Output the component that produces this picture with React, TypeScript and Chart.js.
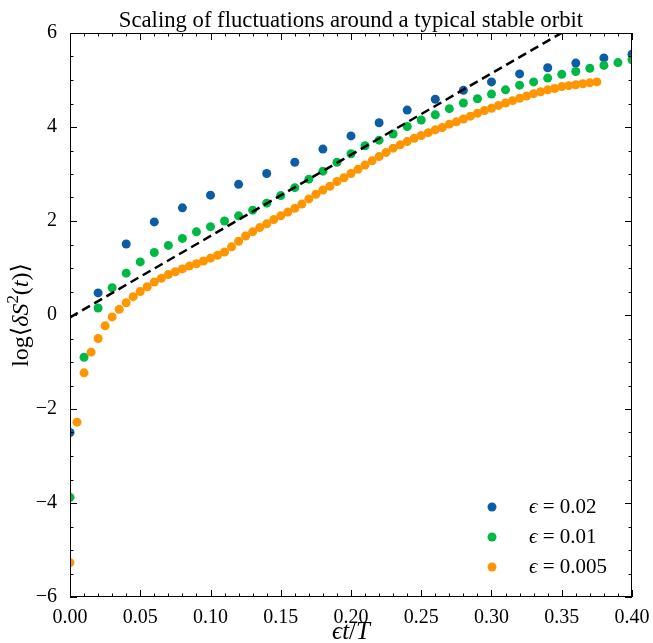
import React, { useEffect, useRef } from "react";
import { Chart, registerables } from "chart.js";
Chart.register(...registerables);

const TITLE = "Scaling of fluctuations around a typical stable orbit";
const LEGEND_LABELS = ["0.02", "0.01", "0.005"];
const COLORS = ["#0C5DA5", "#00B945", "#FF9500"];

const blueX = [0, 0.02, 0.04, 0.06, 0.08, 0.1, 0.12, 0.14, 0.16, 0.18, 0.2, 0.22, 0.24, 0.26, 0.28, 0.3, 0.32, 0.34, 0.36, 0.38, 0.4];
const blueY = [-2.5, 0.47, 1.51, 1.98, 2.28, 2.55, 2.78, 3.01, 3.25, 3.53, 3.81, 4.09, 4.36, 4.59, 4.78, 4.96, 5.13, 5.26, 5.36, 5.47, 5.55];

const greenX = [0, 0.01, 0.02, 0.03, 0.04, 0.05, 0.06, 0.07, 0.08, 0.09, 0.1, 0.11, 0.12, 0.13, 0.14, 0.15, 0.16, 0.17, 0.18, 0.19, 0.2, 0.21, 0.22, 0.23, 0.24, 0.25, 0.26, 0.27, 0.28, 0.29, 0.3, 0.31, 0.32, 0.33, 0.34, 0.35, 0.36, 0.37, 0.38, 0.39, 0.4];
const greenY = [-3.88, -0.9, 0.15, 0.58, 0.89, 1.13, 1.33, 1.48, 1.63, 1.77, 1.88, 2.0, 2.11, 2.23, 2.38, 2.54, 2.71, 2.89, 3.06, 3.25, 3.43, 3.6, 3.72, 3.85, 4.01, 4.15, 4.26, 4.39, 4.51, 4.6, 4.7, 4.79, 4.89, 4.96, 5.04, 5.12, 5.18, 5.25, 5.31, 5.37, 5.43];

const orangeX = [0, 0.005, 0.01, 0.015, 0.02, 0.025, 0.03, 0.035, 0.04, 0.045, 0.05, 0.055, 0.06, 0.065, 0.07, 0.075, 0.08, 0.085, 0.09, 0.095, 0.1, 0.105, 0.11, 0.115, 0.12, 0.125, 0.13, 0.135, 0.14, 0.145, 0.15, 0.155, 0.16, 0.165, 0.17, 0.175, 0.18, 0.185, 0.19, 0.195, 0.2, 0.205, 0.21, 0.215, 0.22, 0.225, 0.23, 0.235, 0.24, 0.245, 0.25, 0.255, 0.26, 0.265, 0.27, 0.275, 0.28, 0.285, 0.29, 0.295, 0.3, 0.305, 0.31, 0.315, 0.32, 0.325, 0.33, 0.335, 0.34, 0.345, 0.35, 0.355, 0.36, 0.365, 0.37, 0.375];
const orangeY = [-5.27, -2.28, -1.23, -0.79, -0.5, -0.23, -0.04, 0.12, 0.26, 0.39, 0.5, 0.6, 0.7, 0.78, 0.86, 0.92, 0.98, 1.04, 1.09, 1.15, 1.21, 1.27, 1.34, 1.45, 1.57, 1.68, 1.77, 1.86, 1.94, 2.03, 2.11, 2.19, 2.27, 2.36, 2.47, 2.57, 2.66, 2.74, 2.84, 2.92, 3.01, 3.1, 3.19, 3.28, 3.37, 3.46, 3.55, 3.62, 3.69, 3.76, 3.82, 3.88, 3.94, 3.99, 4.06, 4.11, 4.17, 4.23, 4.29, 4.35, 4.4, 4.46, 4.51, 4.56, 4.61, 4.66, 4.71, 4.75, 4.79, 4.82, 4.86, 4.88, 4.9, 4.92, 4.94, 4.96];

const fitX = [0, 0.4];
const fitY = [-0.05, 6.87];

const X_MIN = 0, X_MAX = 0.4, X_MAJOR = 0.05, X_MINOR = 0.01;
const Y_MIN = -6, Y_MAX = 6, Y_MAJOR = 2, Y_MINOR = 0.5;

const FONT = "'Liberation Serif', 'DejaVu Serif', serif";

type Seg = { t: string; it?: boolean; sup?: boolean };

function segFont(s: Seg, size: number) {
  const sz = s.sup ? size * 0.7 : size;
  return `${s.it ? "italic " : ""}${sz}px ${FONT}`;
}

function drawRich(ctx: CanvasRenderingContext2D, segs: Seg[], x: number, y: number, size: number) {
  let total = 0;
  for (const s of segs) {
    ctx.font = segFont(s, size);
    total += ctx.measureText(s.t).width;
  }
  let cx = x - total / 2;
  ctx.textAlign = "left";
  ctx.textBaseline = "alphabetic";
  for (const s of segs) {
    ctx.font = segFont(s, size);
    ctx.fillText(s.t, cx, s.sup ? y - size * 0.4 : y);
    cx += ctx.measureText(s.t).width;
  }
}

function drawRichLeft(ctx: CanvasRenderingContext2D, segs: Seg[], x: number, y: number, size: number) {
  let cx = x;
  ctx.textAlign = "left";
  ctx.textBaseline = "middle";
  for (const s of segs) {
    ctx.font = segFont(s, size);
    ctx.fillText(s.t, cx, y);
    cx += ctx.measureText(s.t).width;
  }
}

const decorPlugin = {
  id: "decor",
  afterDraw(chart: any) {
    const ctx: CanvasRenderingContext2D = chart.ctx;
    const a = chart.chartArea;
    const xs = chart.scales.x;
    const ys = chart.scales.y;
    ctx.save();
    ctx.strokeStyle = "#000";
    ctx.fillStyle = "#000";
    ctx.lineWidth = 1;
    ctx.strokeRect(a.left + 0.5, a.top + 0.5, a.right - a.left - 1, a.bottom - a.top - 1);
    const nx = Math.round((X_MAX - X_MIN) / X_MINOR);
    for (let i = 0; i <= nx; i++) {
      const v = X_MIN + i * X_MINOR;
      const major = i % Math.round(X_MAJOR / X_MINOR) === 0;
      const L = major ? 7 : 3.5;
      const px = Math.round(xs.getPixelForValue(v)) + 0.5;
      ctx.beginPath();
      ctx.moveTo(px, a.bottom);
      ctx.lineTo(px, a.bottom - L);
      ctx.moveTo(px, a.top);
      ctx.lineTo(px, a.top + L);
      ctx.stroke();
    }
    const ny = Math.round((Y_MAX - Y_MIN) / Y_MINOR);
    for (let i = 0; i <= ny; i++) {
      const v = Y_MIN + i * Y_MINOR;
      const major = i % Math.round(Y_MAJOR / Y_MINOR) === 0;
      const L = major ? 7 : 3.5;
      const py = Math.round(ys.getPixelForValue(v)) + 0.5;
      ctx.beginPath();
      ctx.moveTo(a.left, py);
      ctx.lineTo(a.left + L, py);
      ctx.moveTo(a.right, py);
      ctx.lineTo(a.right - L, py);
      ctx.stroke();
    }
    // title
    ctx.font = `22.7px ${FONT}`;
    ctx.textAlign = "center";
    ctx.textBaseline = "alphabetic";
    ctx.fillText(TITLE, (a.left + a.right) / 2, 27);
    // x title
    drawRich(ctx, [{ t: "\u03F5", it: true }, { t: "t", it: true }, { t: "/" }, { t: "T", it: true }], (a.left + a.right) / 2, 639, 25);
    // y title
    ctx.save();
    ctx.translate(28, (a.top + a.bottom) / 2);
    ctx.rotate(-Math.PI / 2);
    drawRich(ctx, [
      { t: "log\u27E8" },
      { t: "\u03B4S", it: true },
      { t: "2", sup: true },
      { t: "(" },
      { t: "t", it: true },
      { t: ")\u27E9" },
    ], 0, 0, 24);
    ctx.restore();
    // legend
    for (let i = 0; i < 3; i++) {
      const ly = 507 + i * 30;
      ctx.beginPath();
      ctx.fillStyle = COLORS[i];
      ctx.arc(492, ly, 4.5, 0, Math.PI * 2);
      ctx.fill();
      ctx.fillStyle = "#000";
      drawRichLeft(ctx, [{ t: "\u03F5", it: true }, { t: " = " + LEGEND_LABELS[i] }], 529, ly, 21);
    }
    ctx.restore();
  },
};

function toPts(xs: number[], ys: number[]) {
  return xs.map((x, i) => ({ x, y: ys[i] }));
}

export default function App() {
  const ref = useRef<HTMLCanvasElement | null>(null);
  useEffect(() => {
    if (!ref.current) return;
    const pointDs = (data: any, color: string, order: number) => ({
      data,
      backgroundColor: color,
      borderColor: color,
      pointRadius: 4.5,
      pointBorderWidth: 0,
      pointHoverRadius: 4.5,
      showLine: false,
      order,
    });
    const chart = new Chart(ref.current, {
      type: "scatter",
      data: {
        datasets: [
          {
            data: toPts(fitX, fitY),
            showLine: true,
            borderColor: "#000",
            borderWidth: 2.5,
            borderDash: [9, 5],
            pointRadius: 0,
            order: 0,
          } as any,
          pointDs(toPts(orangeX, orangeY), COLORS[2], 1),
          pointDs(toPts(greenX, greenY), COLORS[1], 2),
          pointDs(toPts(blueX, blueY), COLORS[0], 3),
        ],
      },
      options: {
        animation: false,
        responsive: true,
        maintainAspectRatio: false,
        layout: { padding: { top: 33, right: 21, left: 0, bottom: 0 } },
        plugins: { legend: { display: false }, tooltip: { enabled: false }, title: { display: false } },
        scales: {
          x: {
            type: "linear",
            min: X_MIN,
            max: X_MAX,
            grid: { display: false },
            border: { display: false },
            ticks: {
              stepSize: X_MAJOR,
              color: "#000",
              font: { family: FONT, size: 20 },
              padding: 1,
              maxRotation: 0,
              callback: (v: any) => Number(v).toFixed(2),
            },
            afterFit: (s: any) => { s.height = 46; },
          },
          y: {
            type: "linear",
            min: Y_MIN,
            max: Y_MAX,
            grid: { display: false },
            border: { display: false },
            ticks: {
              stepSize: Y_MAJOR,
              color: "#000",
              font: { family: FONT, size: 20 },
              padding: 5,
              callback: (v: any) => {
                const n = Math.round(Number(v));
                return n < 0 ? "\u2212" + Math.abs(n) : String(n);
              },
            },
            afterFit: (s: any) => { s.width = 70; },
          },
        },
      },
      plugins: [decorPlugin],
    });
    return () => chart.destroy();
  }, []);
  return (
    <div style={{ position: "fixed", left: 0, top: 0, width: 653, height: 643, background: "#fff" }}>
      <canvas ref={ref} />
    </div>
  );
}
